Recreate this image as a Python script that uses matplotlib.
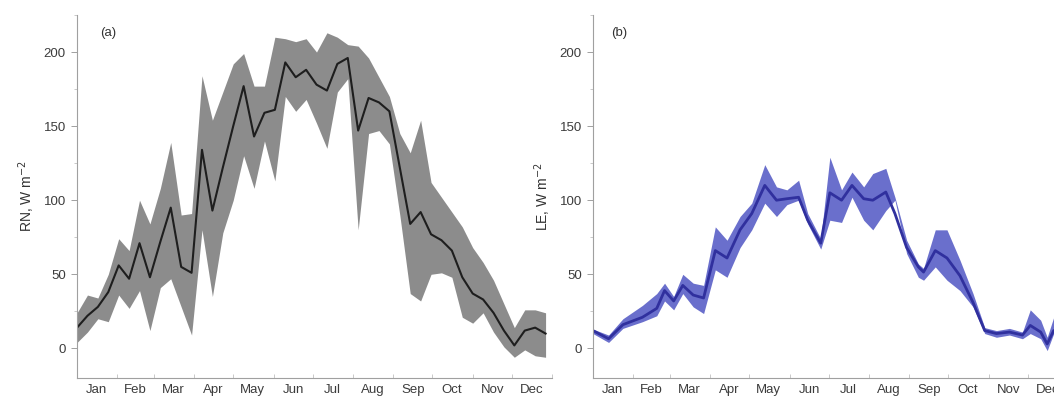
import matplotlib
matplotlib.use('Agg')
import matplotlib.pyplot as plt
from matplotlib.ticker import MultipleLocator

plt.rcParams['font.family'] = ['Liberation Sans', 'DejaVu Sans']

# month labels (mid-month day of year) and month starts
months = ['Jan', 'Feb', 'Mar', 'Apr', 'May', 'Jun', 'Jul', 'Aug', 'Sep', 'Oct', 'Nov', 'Dec']
month_mid = [15, 45, 74, 105, 135, 166, 196, 227, 258, 288, 319, 349]
month_start = [0, 31, 59, 90, 120, 151, 181, 212, 243, 273, 304, 334, 365]

# (a) net radiation, 8-day steps
days_a = [8 * i for i in range(46)]
rn_mean = [14, 22, 28, 38, 56, 47, 71, 48, 72, 95,
           55, 51, 134, 93, 122, 150, 177, 143, 159, 161,
           193, 183, 188, 178, 174, 192, 196, 147, 169, 166,
           160, 122, 84, 92, 77, 73, 66, 48, 37, 33,
           24, 12, 2, 12, 14, 10]
rn_upper = [24, 36, 34, 50, 74, 66, 100, 84, 108, 139,
            90, 91, 184, 154, 173, 192, 199, 177, 177, 210,
            209, 207, 209, 200, 213, 210, 205, 204, 196, 183,
            170, 145, 132, 154, 112, 102, 92, 82, 68, 58,
            46, 30, 14, 26, 26, 24]
rn_lower = [4, 11, 20, 18, 36, 27, 39, 12, 41, 47,
            28, 9, 80, 35, 78, 100, 130, 108, 140, 113,
            170, 160, 168, 152, 135, 173, 182, 80, 145, 147,
            138, 90, 37, 32, 50, 51, 48, 21, 17, 24,
            11, 1, -6, -1, -5, -6]

# (b) latent heat
days_b = [0, 12, 23, 38, 49, 55, 62, 69, 77, 85,
          94, 103, 113, 122, 132, 141, 149, 158, 165, 175,
          182, 191, 199, 208, 215, 225, 232, 241, 250, 254,
          263, 272, 282, 292, 301, 310, 320, 330, 336, 344,
          349, 354, 362]
le_mean = [12, 6.5, 16, 21, 27, 39, 32, 42.5, 36, 34,
           66, 61, 80, 91, 110, 100, 101, 102, 86.5, 71,
           105, 100, 110, 101, 100, 105.5, 91, 68, 55, 51.5,
           66, 61, 49, 31, 12, 10, 11, 9, 15.5, 11,
           3, 12, 12]
le_upper = [13, 9, 20, 29, 37, 44, 35, 50, 44, 42.5,
            82, 73, 89, 98, 124, 109, 107, 113.5, 91, 74,
            129, 107, 119, 109, 118, 121.5, 102, 73, 57, 54,
            80, 80, 59.5, 37, 14, 12, 13.5, 11, 26, 19,
            7.5, 21, 16]
le_lower = [10, 4, 13.5, 18, 22, 32, 26, 37, 28, 23.5,
            53, 48, 68, 80, 98, 89, 97, 100, 84, 67,
            86.5, 85, 102, 86.5, 80, 93, 100, 64, 48, 46,
            55, 46, 39, 28, 10, 7.5, 9, 6.5, 10, 6.5,
            -1.5, 10, 8]

fig = plt.figure(figsize=(10.54, 3.99), dpi=100)
ax1 = fig.add_axes([0.0731, 0.0526, 0.4507, 0.9098])
ax2 = fig.add_axes([0.5626, 0.0526, 0.4507, 0.9098])

ax1.fill_between(days_a, rn_lower, rn_upper, color='#8c8c8c', linewidth=0)
ax1.plot(days_a, rn_mean, color='#1e1e1e', linewidth=1.5)

ax2.fill_between(days_b, le_lower, le_upper, color='#6a6fcc', linewidth=0)
ax2.plot(days_b, le_mean, color='#30309e', linewidth=2)

for ax, lab, panel, px in [(ax1, 'RN, W m$^{-2}$', '(a)', 0.048),
                           (ax2, 'LE, W m$^{-2}$', '(b)', 0.038)]:
    ax.set_xlim(0, 365)
    ax.set_ylim(-20, 225)
    ax.spines['top'].set_visible(False)
    ax.spines['right'].set_visible(False)
    for s in ['left', 'bottom']:
        ax.spines[s].set_color('#a0a0a0')
        ax.spines[s].set_linewidth(0.8)
    ax.set_yticks([0, 50, 100, 150, 200])
    ax.yaxis.set_minor_locator(MultipleLocator(25))
    ax.tick_params(axis='y', which='major', length=4, width=0.7, color='#a0a0a0',
                   labelsize=9.5, labelcolor='#3c3c3c', pad=4)
    ax.tick_params(axis='y', which='minor', length=2, width=0.6, color='#c0c0c0')
    ax.set_xticks(month_mid)
    ax.set_xticklabels(months)
    ax.set_xticks(month_start, minor=True)
    ax.tick_params(axis='x', which='major', length=0, labelsize=9.5,
                   labelcolor='#3c3c3c', pad=4)
    ax.tick_params(axis='x', which='minor', length=3, width=0.6, color='#c0c0c0',
                   direction='in')
    ax.set_ylabel(lab, fontsize=10, color='#333333', labelpad=5)
    ax.text(px, 0.95, panel, transform=ax.transAxes, fontsize=9.5,
            color='#333333', ha='left', va='center')

fig.savefig('out.png', dpi=100)
